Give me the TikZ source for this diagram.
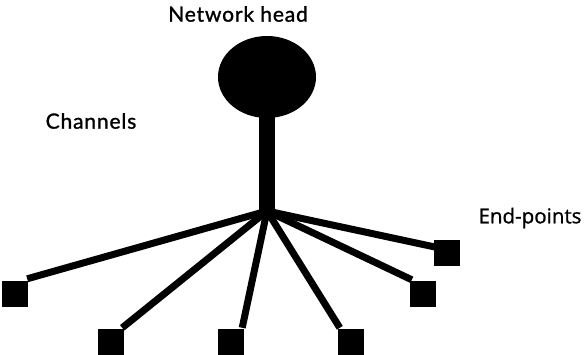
\documentclass[tikz,border=0pt]{standalone}
\usepackage{fontspec}
\newfontfamily\epfont[FakeBold=1]{Open Sans}
\newfontfamily\roundfont[FakeBold=1.2,LetterSpace=4]{Lato}
\usetikzlibrary{shapes.geometric}
\begin{document}
\begin{tikzpicture}[x=1pt,y=-1pt,
  endpt/.style={fill=black,draw=none,minimum size=26pt,inner sep=0pt,rectangle},
  chan/.style={line width=7pt,black},
  lbl/.style={font=\epfont\fontsize{20.5}{24}\selectfont,inner sep=0pt},
  rlbl/.style={font=\roundfont\fontsize{21}{24}\selectfont,inner sep=0pt}]
\useasboundingbox (0,0) rectangle (585,355);
\node[ellipse,fill=black,minimum width=98pt,minimum height=82pt,inner sep=0pt] (head) at (267,77) {};
\coordinate (hub) at (267,211);
\node[fill=black,minimum width=16pt,minimum height=100pt,inner sep=0pt,anchor=south] (stem) at (267,213) {};
\node[endpt] (e1) at (15,294) {};
\node[endpt] (e2) at (111,342) {};
\node[endpt] (e3) at (231,342) {};
\node[endpt] (e4) at (351,342) {};
\node[endpt] (e5) at (423,294) {};
\node[endpt] (e6) at (447,253) {};
\draw[chan] (hub) -- ([xshift=-1pt,yshift=2pt]e1.north east);
\draw[chan] (hub) -- ([xshift=-2pt,yshift=1pt]e2.north east);
\draw[chan] (hub) -- ([xshift=-2pt,yshift=1pt]e3.north east);
\draw[chan] (hub) -- ([xshift=2pt,yshift=1pt]e4.north west);
\draw[chan] (hub) -- ([xshift=2pt,yshift=1pt]e5.north west);
\draw[chan] (hub) -- ([xshift=1pt,yshift=6pt]e6.west);
\node[rlbl] (nh) at (238,14) {Network head};
\node[rlbl] (ch) at (91,121) {Channels};
\node[lbl] (ep) at (530,218) {End-points};
\end{tikzpicture}
\end{document}
